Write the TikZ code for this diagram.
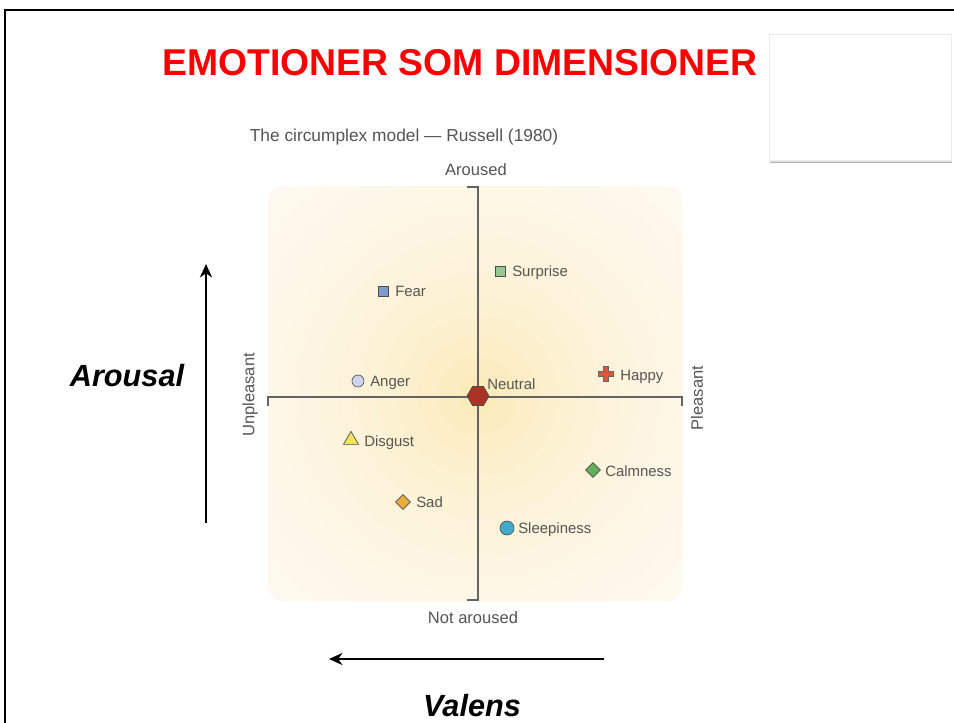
\documentclass[tikz,border=0pt]{standalone}
\usepackage{fontspec}
\setmainfont{Liberation Sans}
\usetikzlibrary{arrows.meta,shapes.geometric}
\definecolor{titlered}{RGB}{250,0,0}
\definecolor{txtgray}{RGB}{85,85,85}
\definecolor{axisgray}{RGB}{100,100,100}
\definecolor{ringin}{RGB}{251,234,185}
\definecolor{ringout}{RGB}{254,250,242}
\definecolor{cfear}{RGB}{125,155,205}
\definecolor{csurprise}{RGB}{150,200,150}
\definecolor{canger}{RGB}{205,212,236}
\definecolor{cneutral}{RGB}{170,50,35}
\definecolor{chappy}{RGB}{222,85,55}
\definecolor{cdisgust}{RGB}{242,228,90}
\definecolor{ccalm}{RGB}{100,175,90}
\definecolor{csad}{RGB}{235,172,62}
\definecolor{csleep}{RGB}{65,172,205}
\begin{document}
\begin{tikzpicture}[x=0.75pt,y=-0.75pt,
  lbl/.style={anchor=base west,inner sep=0pt,text=txtgray,font=\fontsize{11.2pt}{13pt}\selectfont},
  axlbl/.style={inner sep=0pt,text=txtgray,font=\fontsize{12.4pt}{14pt}\selectfont},
  mk/.style={draw=black!70,line width=0.5pt,inner sep=0pt},
  bigarrow/.style={line width=2.2pt,-{Stealth[length=10pt,width=9pt,inset=3pt]}},
  axisline/.style={draw=axisgray,line width=0.8pt}]
\useasboundingbox (0,0) rectangle (954,722);
\fill[white] (0,0) rectangle (954,722);
% frame
\draw[line width=2pt] (5,730) -- (5,10) -- (970,10);
% card
\fill[black!30] (770,37) rectangle (952,163);
\fill[black!12] (769,35) rectangle (952,162);
\filldraw[fill=white,draw=black!8] (769,34) rectangle (951,160);
% title
\node[text=titlered,font=\bfseries\fontsize{28pt}{30pt}\selectfont,inner sep=0pt] (title) at (460,63) {EMOTIONER SOM DIMENSIONER};
\node[text=txtgray,font=\fontsize{13pt}{15pt}\selectfont,inner sep=0pt] (sub) at (404,137) {The circumplex model --- Russell (1980)};
% background
\begin{scope}
\clip[rounded corners=12pt] (268,186) rectangle (682,601);
\fill[ringout] (268,186) rectangle (682,601);
\foreach \r/\p in {300/4,280/8,260/12,240/16,220/20,200/25,180/30,160/36,140/42,120/50,100/58,80/66,60/76,40/86,20/96}{
  \fill[ringin!\p!ringout] (478,396) circle[radius=\r];
}
\end{scope}
% axes
\coordinate (atop) at (478,187);
\coordinate (abot) at (478,600);
\coordinate (aleft) at (268,397);
\coordinate (aright) at (682,397);
\draw[axisline] (467,187) -- (atop) -- (abot) -- (467,600);
\draw[axisline] (268,406) -- (aleft) -- (aright) -- (682,406);
% axis labels
\node[axlbl] (aroused) at (476,170) {Aroused};
\node[axlbl] (notaroused) at (473,618) {Not aroused};
\node[axlbl,rotate=90] (unpl) at (250,395) {Unpleasant};
\node[axlbl,rotate=90] (pleas) at (697,398) {Pleasant};
% markers
\node[mk,rectangle,fill=cfear,minimum size=10pt*0.75] (fear) at (383,291) {};
\node[lbl] (fearl) at (395,296) {Fear};
\node[mk,rectangle,fill=csurprise,minimum size=10pt*0.75] (surp) at (500,271) {};
\node[lbl] (surpl) at (512,276) {Surprise};
\node[mk,circle,fill=canger,minimum size=12pt*0.75] (anger) at (358,381) {};
\node[lbl] (angerl) at (370,386) {Anger};
\node[mk,regular polygon,regular polygon sides=6,fill=cneutral,minimum size=22pt*0.75] (neut) at (478,396) {};
\node[lbl] (neutl) at (487,389) {Neutral};
\coordinate (happy) at (606,374);
\filldraw[fill=chappy,draw=black!60,line width=0.4pt,shift={(606,374)}]
  (-2.5,-7.5) -- (2.5,-7.5) -- (2.5,-2.5) -- (7.5,-2.5) -- (7.5,2.5) -- (2.5,2.5) -- (2.5,7.5) -- (-2.5,7.5) -- (-2.5,2.5) -- (-7.5,2.5) -- (-7.5,-2.5) -- (-2.5,-2.5) -- cycle;
\node[lbl] (happyl) at (620,380) {Happy};
\node[mk,isosceles triangle,isosceles triangle apex angle=60,shape border rotate=90,fill=cdisgust,minimum height=13pt*0.75] (disg) at (351,440) {};
\node[lbl] (disgl) at (364,446) {Disgust};
\node[mk,diamond,fill=ccalm,minimum size=15pt*0.75] (calm) at (593,470) {};
\node[lbl] (calml) at (605,476) {Calmness};
\node[mk,diamond,fill=csad,minimum size=15pt*0.75] (sad) at (403,502) {};
\node[lbl] (sadl) at (416,507) {Sad};
\node[mk,circle,fill=csleep,minimum size=14pt*0.75] (sleep) at (507,528) {};
\node[lbl] (sleepl) at (518,533) {Sleepiness};
% big arrows
\coordinate (ar1) at (206,523);
\coordinate (ar2) at (206,264);
\draw[bigarrow] (ar1) -- (ar2);
\node[font=\bfseries\itshape\fontsize{23pt}{25pt}\selectfont,inner sep=0pt] (arousal) at (127,376) {Arousal};
\coordinate (va1) at (604,659);
\coordinate (va2) at (329,659);
\draw[bigarrow] (va1) -- (va2);
\node[font=\bfseries\itshape\fontsize{23pt}{25pt}\selectfont,inner sep=0pt] (valens) at (472,706) {Valens};
\end{tikzpicture}
\end{document}
